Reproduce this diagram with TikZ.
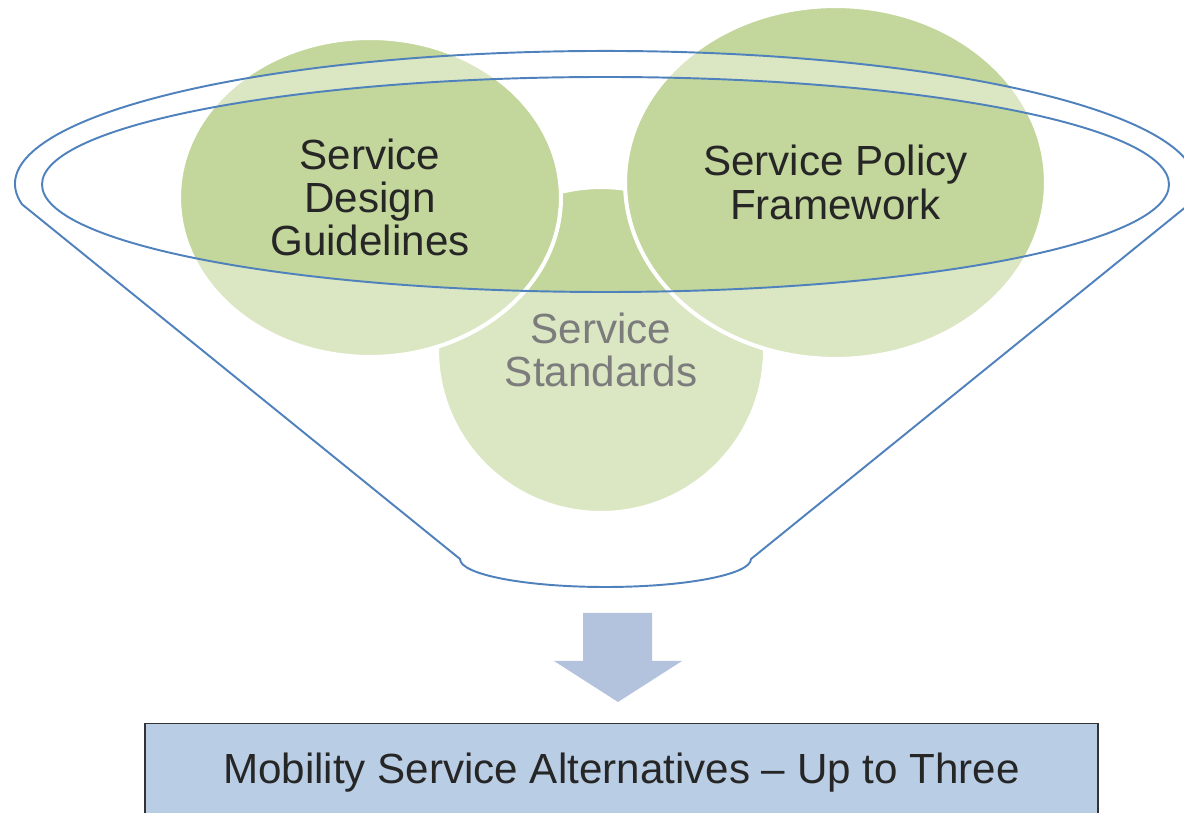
\documentclass[tikz,border=0pt]{standalone}
\usepackage{fontspec}
\setmainfont{Liberation Sans}
\usetikzlibrary{shapes.geometric}
\definecolor{leafgreen}{HTML}{C3D69B}
\definecolor{funnelblue}{HTML}{4F81BD}
\definecolor{arrowblue}{HTML}{B3C2DD}
\definecolor{boxblue}{HTML}{B9CDE5}
\definecolor{inktext}{HTML}{262626}
\begin{document}
\begin{tikzpicture}[x=0.02cm,y=-0.02cm,
  leaf/.style={ellipse,fill=leafgreen,draw=white,line width=2.3pt,inner sep=0pt,
    align=center,text=inktext,font=\fontsize{24}{24.7}\selectfont},
  rim/.style={draw=funnelblue,line width=1.1pt}]
\clip (0,0) rectangle (1184,813);
% the three circles
\node[leaf,minimum width=6.56cm,minimum height=6.52cm] (standards) at (601,350) {Service\\Standards};
\node[leaf,minimum width=7.64cm,minimum height=6.38cm] (design) at (370,197.5) {Service\\Design\\Guidelines};
\node[leaf,minimum width=8.42cm,minimum height=7.06cm] (policy) at (835.5,182.5) {Service Policy\\Framework};
% funnel: outer rim, sides, spout, inner rim
\draw[rim,fill=white,fill opacity=0.4,even odd rule]
  (22,204.3) arc[start angle=171.2,end angle=368.8,x radius=590.5,y radius=133]
  -- (751,559) arc[start angle=0,end angle=180,x radius=145.5,y radius=28] -- cycle
  (605.5,184.5) ellipse[x radius=563.5,y radius=107.5];
% down arrow
\fill[arrowblue] (583,613) -- (652,613) -- (652,661) -- (682,661) -- (618,702)
  -- (554,661) -- (583,661) -- cycle;
\node[draw=black!80,line width=0.8pt,fill=boxblue,minimum width=19.06cm,minimum height=1.94cm,
  anchor=north,text=inktext,font=\fontsize{24}{28}\selectfont] (alts) at (621.5,723)
  {Mobility Service Alternatives – Up to Three};
\end{tikzpicture}
\end{document}
